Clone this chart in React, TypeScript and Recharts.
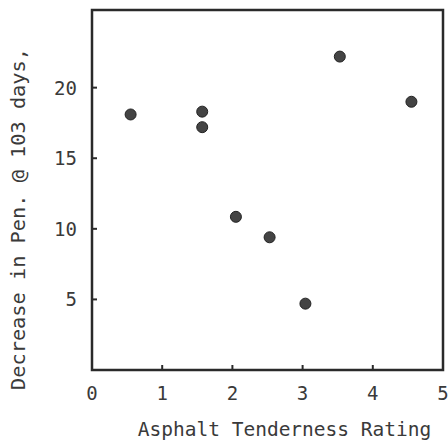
import { ScatterChart, Scatter, XAxis, YAxis, ReferenceArea } from "recharts"

const ratings = [0.55, 1.57, 1.57, 2.05, 2.53, 3.04, 3.53, 4.55]
const decreases = [18.1, 18.3, 17.2, 10.85, 9.4, 4.7, 22.2, 19.0]
const xTicks = [0, 1, 2, 3, 4, 5]
const yTicks = [5, 10, 15, 20]

const points = ratings.map((r, i) => ({ x: r, y: decreases[i] }))

const mono = "'DejaVu Sans Mono', monospace"
const ink = "#2a2a2a"
const textInk = "#3a3a3a"

function XTick({ x, y, payload }: any) {
  const axisY = y - 20
  const edge = payload.value === 0 || payload.value === 5
  return (
    <g>
      {!edge && <line x1={x} x2={x} y1={axisY} y2={axisY - 5} stroke={ink} strokeWidth={2} />}
      <text x={x} y={y} dy={10} textAnchor="middle" fontFamily={mono} fontSize={19} fill={textInk}>
        {payload.value}
      </text>
    </g>
  )
}

function YTick({ x, y, payload }: any) {
  const axisX = x + 15
  return (
    <g>
      <line x1={axisX} x2={axisX + 5} y1={y} y2={y} stroke={ink} strokeWidth={2} />
      <text x={x} y={y} dy={7} textAnchor="end" fontFamily={mono} fontSize={19} fill={textInk}>
        {payload.value}
      </text>
    </g>
  )
}

export default function App() {
  return (
    <div style={{ position: "absolute", left: 0, top: 0, background: "#fff" }}>
      <ScatterChart width={448} height={443} margin={{ top: 10, right: 5, bottom: 0, left: 0 }}>
        <XAxis
          type="number"
          dataKey="x"
          domain={[0, 5]}
          ticks={xTicks}
          height={73}
          axisLine={false}
          tickLine={false}
          tickSize={0}
          tickMargin={20}
          tick={<XTick />}
          label={{
            value: "Asphalt Tenderness Rating",
            position: "insideBottom",
            offset: 7,
            dx: 17,
            fontFamily: mono,
            fontSize: 19.5,
            fill: textInk,
          }}
        />
        <YAxis
          type="number"
          dataKey="y"
          domain={[0, 25.5]}
          ticks={yTicks}
          width={92}
          axisLine={false}
          tickLine={false}
          tickSize={0}
          tickMargin={15}
          tick={<YTick />}
          label={{
            content: () => (
              <text
                x={18}
                y={219}
                transform="rotate(-90, 18, 219)"
                textAnchor="middle"
                dominantBaseline="central"
                fontFamily={mono}
                fontSize={20.3}
                fill={textInk}
              >
                Decrease in Pen. @ 103 days,
              </text>
            ),
          }}
        />
        <ReferenceArea x1={0} x2={5} y1={0} y2={25.5} fill="none" stroke={ink} strokeWidth={2.5} />
        <Scatter
          data={points}
          fill="#444"
          stroke="#222"
          strokeWidth={1}
          isAnimationActive={false}
          shape={(p: any) => <circle cx={p.cx} cy={p.cy} r={5.5} fill="#444" stroke="#222" />}
        />
      </ScatterChart>
    </div>
  )
}
